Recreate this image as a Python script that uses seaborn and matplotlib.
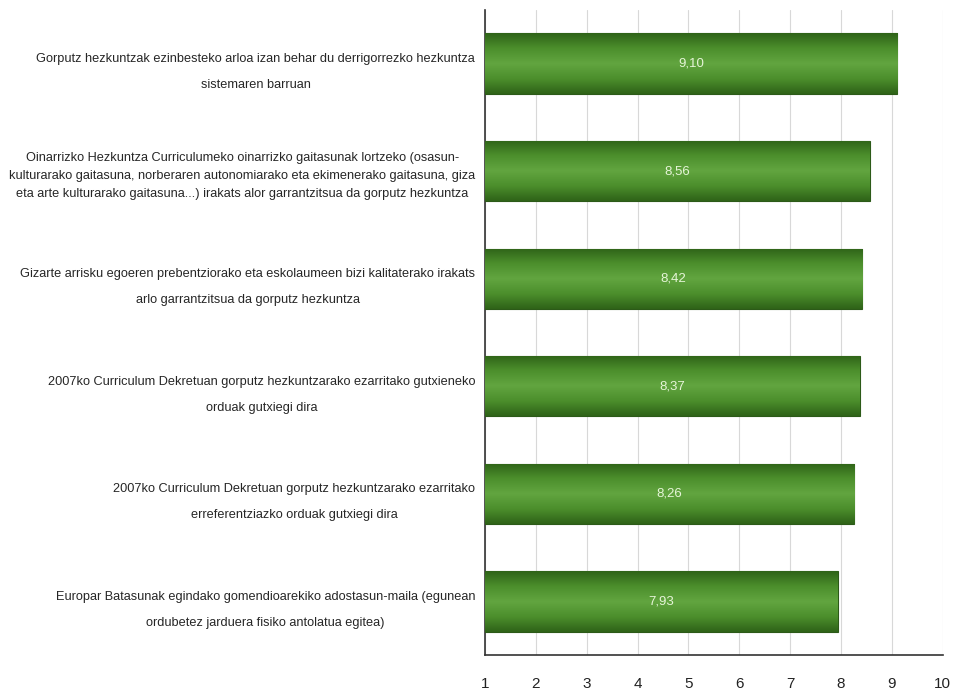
import numpy as np
import matplotlib
matplotlib.use("Agg")
import matplotlib.pyplot as plt
import seaborn as sns
from matplotlib.colors import LinearSegmentedColormap

# Data
statements = [
    "Gorputz hezkuntzak ezinbesteko arloa izan behar du derrigorrezko hezkuntza\nsistemaren barruan",
    "Oinarrizko Hezkuntza Curriculumeko oinarrizko gaitasunak lortzeko (osasun-\nkulturarako gaitasuna, norberaren autonomiarako eta ekimenerako gaitasuna, giza\neta arte kulturarako gaitasuna...) irakats alor garrantzitsua da gorputz hezkuntza",
    "Gizarte arrisku egoeren prebentziorako eta eskolaumeen bizi kalitaterako irakats\narlo garrantzitsua da gorputz hezkuntza",
    "2007ko Curriculum Dekretuan gorputz hezkuntzarako ezarritako gutxieneko\norduak gutxiegi dira",
    "2007ko Curriculum Dekretuan gorputz hezkuntzarako ezarritako\nerreferentziazko orduak gutxiegi dira",
    "Europar Batasunak egindako gomendioarekiko adostasun-maila (egunean\nordubetez jarduera fisiko antolatua egitea)",
]
scores = [9.10, 8.56, 8.42, 8.37, 8.26, 7.93]
score_labels = ["9,10", "8,56", "8,42", "8,37", "8,26", "7,93"]
x_ticks = [1, 2, 3, 4, 5, 6, 7, 8, 9, 10]

sns.set_style("white")
plt.rcParams["font.family"] = ["Liberation Sans", "DejaVu Sans"]

fig = plt.figure(figsize=(9.67, 7.0), dpi=100)
ax = fig.add_axes([0.5015, 0.064, 0.4735, 0.922])

# bars start at 1 -> plot length from 1
sns.barplot(x=[s - 1 for s in scores], y=statements, orient="h", ax=ax,
            color="#4a8a2c", width=0.56, edgecolor="#2c5a18", linewidth=0.8,
            left=1, zorder=3)

# gradient overlay on each bar
cmap = LinearSegmentedColormap.from_list(
    "grn", ["#2f6318", "#4c8f2c", "#62a540", "#4c8f2c", "#2f6318"])
grad = np.linspace(0, 1, 100).reshape(-1, 1)
for p in ax.patches:
    x0, y0 = p.get_x(), p.get_y()
    w, h = p.get_width(), p.get_height()
    im = ax.imshow(grad, cmap=cmap, aspect="auto", extent=[x0, x0 + w, y0 + h, y0],
                   zorder=4, interpolation="bicubic")
    im.set_clip_path(p)

for i, (s, lab) in enumerate(zip(scores, score_labels)):
    ax.text((1 + s) / 2, i, lab, ha="center", va="center", color="#e6f5d8",
            fontsize=9.5, zorder=5)

ax.set_xlim(1, 10)
ax.set_ylim(5.5, -0.5)
ax.set_xticks(x_ticks)
ax.set_xticklabels([str(t) for t in x_ticks], fontsize=11, color="#222222")
ax.set_yticks(range(len(statements)))
ax.set_yticklabels(statements, fontsize=9.2, multialignment="center")
for lbl in ax.get_yticklabels():
    n = lbl.get_text().count("\n") + 1
    lbl.set_linespacing(2.55 if n == 2 else 1.7)
ax.set_yticks(np.arange(0.5, 5.5, 1), minor=True)
ax.tick_params(axis="y", which="major", length=0, pad=7)
ax.tick_params(axis="y", which="minor", length=5, width=1, direction="in", color="#333333")
ax.tick_params(axis="x", length=5, width=1, direction="inout", color="#333333", pad=13)

ax.xaxis.grid(True, color="#d8d8d8", linewidth=0.8, zorder=0)
ax.set_axisbelow(True)
for side in ["top", "right"]:
    ax.spines[side].set_visible(False)
for side in ["left", "bottom"]:
    ax.spines[side].set_color("#333333")
    ax.spines[side].set_linewidth(1.2)

ax.set_xlabel("")
ax.set_ylabel("")

plt.savefig("out.png", dpi=100)
